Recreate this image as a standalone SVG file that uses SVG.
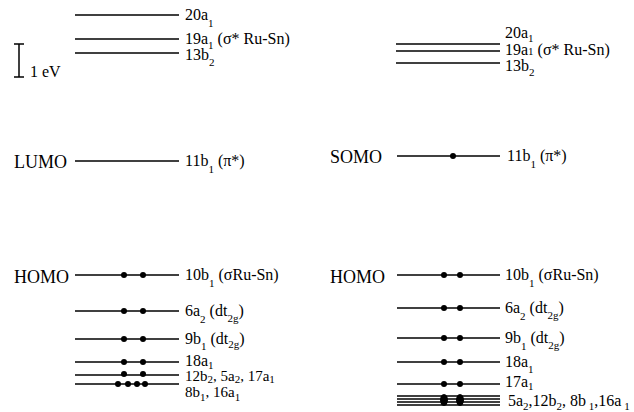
<svg xmlns="http://www.w3.org/2000/svg" width="634" height="412" viewBox="0 0 634 412">
<style>
text{font-family:"Liberation Serif","DejaVu Serif",serif;font-size:16px;fill:#000}
.big{font-size:18px}
.sm{font-size:15px}
.sub{font-size:11px}
.lv{stroke:#000;stroke-width:1.5;fill:none}
.dot{fill:#000}
</style>
<rect width="634" height="412" fill="#fff"/>
<g id="scale">
<line class="lv" x1="19" y1="44" x2="19" y2="77"/>
<line class="lv" x1="14" y1="44" x2="24" y2="44"/>
<line class="lv" x1="14" y1="77" x2="24" y2="77"/>
<text x="30" y="77">1 eV</text>
</g>
<g id="left">
<g id="L20a1"><line class="lv" x1="75" y1="15" x2="179" y2="15"/><text x="185" y="20">20a<tspan class="sub" dy="7">1</tspan></text></g>
<g id="L19a1"><line class="lv" x1="75" y1="39" x2="179" y2="39"/><text x="185" y="44">19a<tspan class="sub" dy="5">1</tspan><tspan dy="-5"> (σ* Ru-Sn)</tspan></text></g>
<g id="L13b2"><line class="lv" x1="75" y1="53" x2="179" y2="53"/><text x="185" y="60">13b<tspan class="sub" dy="6">2</tspan></text></g>
<g id="L11b1"><text class="big" x="14" y="168">LUMO</text><line class="lv" x1="75" y1="161" x2="179" y2="161"/><text x="185" y="166">11b<tspan class="sub" dy="7">1</tspan><tspan dy="-7"> (π*)</tspan></text></g>
<g id="L10b1"><text class="big" x="14" y="283">HOMO</text><line class="lv" x1="75" y1="275" x2="179" y2="275"/><circle class="dot" cx="124" cy="275" r="3"/><circle class="dot" cx="143" cy="275" r="3"/><text x="185" y="280">10b<tspan class="sub" dy="7">1</tspan><tspan dy="-7"> (σRu-Sn)</tspan></text></g>
<g id="L6a2"><line class="lv" x1="75" y1="311" x2="179" y2="311"/><circle class="dot" cx="124" cy="311" r="3"/><circle class="dot" cx="143" cy="311" r="3"/><text x="185" y="316">6a<tspan class="sub" dy="7">2</tspan><tspan dy="-7"> (dt</tspan><tspan class="sub" dy="6">2g</tspan><tspan dy="-6">)</tspan></text></g>
<g id="L9b1"><line class="lv" x1="75" y1="339" x2="179" y2="339"/><circle class="dot" cx="124" cy="339" r="3"/><circle class="dot" cx="143" cy="339" r="3"/><text x="185" y="344">9b<tspan class="sub" dy="6">1</tspan><tspan dy="-6"> (dt</tspan><tspan class="sub" dy="4">2g</tspan><tspan dy="-4">)</tspan></text></g>
<g id="L18a1"><line class="lv" x1="75" y1="362" x2="179" y2="362"/><circle class="dot" cx="124" cy="362" r="3"/><circle class="dot" cx="143" cy="362" r="3"/><text x="185" y="366">18a<tspan class="sub" dy="3">1</tspan></text></g>
<g id="L12b2"><line class="lv" x1="75" y1="375" x2="179" y2="375" stroke-width="4"/><circle class="dot" cx="124" cy="374" r="3"/><circle class="dot" cx="143" cy="374" r="3"/><text class="sm" x="185" y="381">12b<tspan class="sub" dy="2">2</tspan><tspan dy="-2">, 5a</tspan><tspan class="sub" dy="2">2</tspan><tspan dy="-2">, 17a</tspan><tspan class="sub" dy="2">1</tspan></text></g>
<g id="L8b1"><line class="lv" x1="75" y1="384" x2="179" y2="384" stroke-width="2"/><circle class="dot" cx="118" cy="384" r="3"/><circle class="dot" cx="128" cy="384" r="3"/><circle class="dot" cx="137" cy="384" r="3"/><circle class="dot" cx="145" cy="384" r="3"/><text class="sm" x="185" y="397">8b<tspan class="sub" dy="4">1</tspan><tspan dy="-4">, 16a</tspan><tspan class="sub" dy="4">1</tspan></text></g>
</g>
<g id="right">
<g id="R20a1"><line class="lv" x1="396" y1="44" x2="500" y2="44"/><text x="505" y="38">20a<tspan class="sub" dy="4">1</tspan></text></g>
<g id="R19a1"><line class="lv" x1="396" y1="51" x2="500" y2="51" stroke-width="2.2"/><text x="505" y="55">19a<tspan class="sub" dy="0">1</tspan><tspan> (σ* Ru-Sn)</tspan></text></g>
<g id="R13b2"><line class="lv" x1="396" y1="63" x2="500" y2="63"/><text x="505" y="71">13b<tspan class="sub" dy="5">2</tspan></text></g>
<g id="R11b1"><text class="big" x="330" y="163">SOMO</text><line class="lv" x1="397" y1="156" x2="500" y2="156"/><circle class="dot" cx="453" cy="156" r="3"/><text x="507" y="161">11b<tspan class="sub" dy="7">1</tspan><tspan dy="-7"> (π*)</tspan></text></g>
<g id="R10b1"><text class="big" x="330" y="283">HOMO</text><line class="lv" x1="397" y1="275" x2="500" y2="275"/><circle class="dot" cx="444" cy="275" r="3"/><circle class="dot" cx="460" cy="275" r="3"/><text x="505" y="280">10b<tspan class="sub" dy="7">1</tspan><tspan dy="-7"> (σRu-Sn)</tspan></text></g>
<g id="R6a2"><line class="lv" x1="397" y1="308" x2="500" y2="308"/><circle class="dot" cx="444" cy="308" r="3"/><circle class="dot" cx="460" cy="308" r="3"/><text x="505" y="313">6a<tspan class="sub" dy="7">2</tspan><tspan dy="-7"> (dt</tspan><tspan class="sub" dy="6">2g</tspan><tspan dy="-6">)</tspan></text></g>
<g id="R9b1"><line class="lv" x1="397" y1="338" x2="500" y2="338"/><circle class="dot" cx="444" cy="338" r="3"/><circle class="dot" cx="460" cy="338" r="3"/><text x="505" y="343">9b<tspan class="sub" dy="7">1</tspan><tspan dy="-7"> (dt</tspan><tspan class="sub" dy="6">2g</tspan><tspan dy="-6">)</tspan></text></g>
<g id="R18a1"><line class="lv" x1="397" y1="362" x2="500" y2="362"/><circle class="dot" cx="444" cy="362" r="3"/><circle class="dot" cx="460" cy="362" r="3"/><text x="505" y="367">18a<tspan class="sub" dy="6">1</tspan></text></g>
<g id="R17a1"><line class="lv" x1="397" y1="384" x2="500" y2="384"/><circle class="dot" cx="444" cy="384" r="3"/><circle class="dot" cx="460" cy="384" r="3"/><text x="505" y="387">17a<tspan class="sub" dy="3">1</tspan></text></g>
<g id="R5a2"><line class="lv" x1="397" y1="396" x2="500" y2="396" stroke-width="1.2"/><line class="lv" x1="397" y1="399" x2="500" y2="399" stroke-width="1.2"/><line class="lv" x1="397" y1="402" x2="500" y2="402" stroke-width="1.2"/><line class="lv" x1="397" y1="405" x2="500" y2="405" stroke-width="1.2"/><ellipse class="dot" cx="444" cy="400" rx="4" ry="6"/><ellipse class="dot" cx="460" cy="400" rx="4" ry="6"/><text x="508" y="406">5a<tspan class="sub" dy="4">2</tspan><tspan dy="-4">,12b</tspan><tspan class="sub" dy="4">2</tspan><tspan dy="-4">, 8b</tspan><tspan class="sub" dy="4"> 1</tspan><tspan dy="-4">,16a</tspan><tspan class="sub" dy="4"> 1</tspan></text></g>
</g>
</svg>
